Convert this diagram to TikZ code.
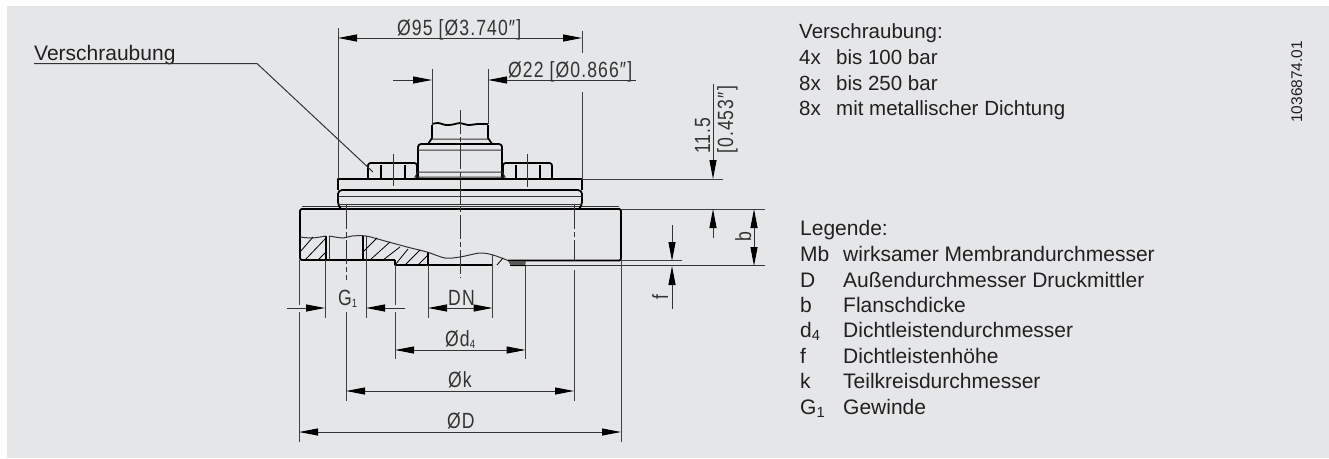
\documentclass[tikz,border=0pt]{standalone}
\usepackage{fontspec}
\setmainfont{Liberation Sans}
\newfontfamily\dimfont[FakeStretch=0.8,LetterSpace=5]{Liberation Sans}
\usetikzlibrary{arrows.meta}
\definecolor{panel}{HTML}{E5E6E8}
\definecolor{ink}{HTML}{231F20}
\begin{document}
\begin{tikzpicture}[x=1pt,y=-1pt,
  dim tip/.tip={Triangle[length=19pt,width=7pt,color=black,fill=black]},
  outline/.style={line width=1.8pt,black,line join=round},
  thin part/.style={line width=1pt,black!80},
  hatch line/.style={line width=.8pt,black},
  ext line/.style={line width=1pt,black!75},
  dim line/.style={line width=1pt,black!80,dim tip-dim tip},
  one tip/.style={line width=1pt,black!80,-dim tip},
  centre line/.style={line width=1pt,black!80,dash pattern=on 24pt off 3pt on 5pt off 3pt},
  dim text/.style={anchor=base west,inner sep=0pt,text=black!80,font=\dimfont\fontsize{22}{24}\selectfont},
  side text/.style={anchor=base west,inner sep=0pt,text=ink,font=\fontsize{20.5}{24}\selectfont},
  legend text/.style={side text,font=\fontsize{21}{24}\selectfont}]

  \fill[white] (0,0) rectangle (1329,458);
  \fill[panel] (7,6) rectangle (1329,458);
  \path[use as bounding box] (0,0) rectangle (1329,458);

  % flange
  \draw[outline,rounded corners=2pt] (300,237) -- (300,209) -- (621,209) -- (621,260.5) -- (508,260.5);
  \draw[outline,rounded corners=2pt] (300,237) -- (300,260) -- (395,260);
  \draw[thin part] (302,206.8) -- (619,206.8);
  \draw[outline,line width=1.4pt] (395,260) -- (395,265) -- (493,265);
  \draw[outline,line width=1.4pt] (326,236) -- (326,260) (363,236) -- (363,260) (428,252) -- (428,265);
  \draw[thin part] (329,236) -- (329,260) (366,236) -- (366,260);
  \draw[thin part,smooth] plot coordinates {(300,237) (312,238) (326,236)};
  \draw[thin part,smooth] plot coordinates {(329,236) (343,238) (352,236) (366,236) (385,241) (407,247) (427,252) (445,258) (460,257) (480,253) (493,255) (508,260.5)};
  \fill[black!65] (508,261) -- (526,261) -- (525,266) -- (511,266) -- cycle;
  \draw[outline,line width=1.4pt] (510,265.5) -- (526,265.5);
  \draw[thin part] (526,265.7) -- (765,265.7);
  \draw[hatch line] (497,265) -- (503,258);
  \foreach \xa/\ya/\xb/\yb in {300/252/313/237,305/260/326/238,318/260/326/252,
    363/252/377/238,370/260/390/242,383/260/400/247,395/265/408/249,405/265/420/250,418/265/428/255}
    \draw[hatch line] (\xa,\ya) -- (\xb,\yb);

  % clamping plate
  \draw[outline,line width=1.3pt] (338,190) -- (338,179) -- (582,179) -- (582,190);
  \draw[outline,rounded corners=4pt] (341,209) -- (338,206) -- (338,190) -- (582,190) -- (582,206) -- (579,209);
  \draw[thin part] (338,196) -- (582,196) (338,204) -- (582,204);

  % nuts
  \foreach \nx in {368,503}{
    \draw[outline,rounded corners=2.5pt] (\nx,178) -- (\nx,163) -- ({\nx+49},163) -- ({\nx+49},178);
    \draw[outline,line width=1.3pt] (\nx+13,165) -- (\nx+13,178) (\nx+37,165) -- (\nx+37,178);
  }
  \draw[thin part] (393,154) -- (393,186) (527,154) -- (527,187);

  % stem
  \draw[outline,rounded corners=3pt] (418,178) -- (418,144) -- (502,144) -- (502,178);
  \draw[outline] (432,125) -- (432,138) -- (428,144) (488,125) -- (488,138) -- (492,144);
  \draw[outline,smooth] plot coordinates {(432,124) (438,123) (446,125) (453,124.5) (460,123) (468,125) (478,124) (488,124)};
  \draw[thin part] (432,139) -- (488,139) (418,150) -- (502,150) (418,172) -- (502,172) (418,172) -- (415,177) -- (505,177) -- (502,172);

  % centre lines
  \draw[centre line] (460,110) -- (460,278);
  \draw[centre line] (346,205) -- (346,280);
  \draw[centre line] (574,205) -- (574,260);

  % extension lines
  \draw[ext line] (338,28) -- (338,179) (582,31) -- (582,53) (582,92) -- (582,179);
  \draw[ext line] (432,69) -- (432,124) (488,69) -- (488,124);
  \draw[ext line] (582,179) -- (723,179) (621,209) -- (765,209) (621,260.7) -- (682,260.7);
  \draw[ext line] (299,260) -- (299,305) (299,312) -- (299,442) (621,260) -- (621,442);
  \draw[ext line] (325,260) -- (325,318) (366,260) -- (366,318);
  \draw[ext line] (395,265) -- (395,305) (395,312) -- (395,359) (525.5,266) -- (525.5,359);
  \draw[ext line] (346,312) -- (346,401) (574,270) -- (574,401);
  \draw[ext line] (428,265) -- (428,318) (492.5,255) -- (492.5,318);

  % dimensions
  \draw[dim line] (338,38) -- (582,38);
  \draw[one tip] (393,80) -- (432,80);
  \draw[one tip] (636,80) -- (488,80);
  \draw[dim line] (428,308) -- (492.5,308);
  \draw[dim line] (395,350) -- (525.5,350);
  \draw[dim line] (346,391) -- (574,391);
  \draw[dim line] (299,432) -- (621,432);
  \draw[one tip] (287,308) -- (325,308);
  \draw[one tip] (405,308) -- (366,308);
  \draw[one tip] (713,84) -- (713,179);
  \draw[one tip] (713,238) -- (713,209);
  \draw[dim line] (754,209) -- (754,266);
  \draw[one tip] (672,225) -- (672,261);
  \draw[one tip] (672,309) -- (672,266);

  % leader
  \node[legend text] (screwlabel) at (34,60) {Verschraubung};
  \coordinate (bend) at (257,63.5);
  \coordinate (nut) at (373,172);
  \draw[thin part] (screwlabel.base west |- bend) -- (bend) -- (nut);

  % dimension texts
  \node[dim text] (dia95) at (397,35) {Ø95 [Ø3.740″]};
  \node[dim text] (dia22) at (508,77) {Ø22 [Ø0.866″]};
  \node[dim text] (g1) at (338,305) {G\raisebox{-2pt}{\fontsize{12}{12}\selectfont 1}};
  \node[dim text] (dn) at (448,305) {DN};
  \node[dim text] (d4) at (445,346) {Ød\raisebox{-2pt}{\fontsize{12}{12}\selectfont 4}};
  \node[dim text] (diak) at (448,387) {Øk};
  \node[dim text] (diad) at (447,428) {ØD};
  \node[dim text,rotate=90] (h115) at (710,154) {11.5};
  \node[dim text,rotate=90] (h453) at (733,154) {[0.453″]};
  \node[dim text,rotate=90,anchor=base] (bb) at (751,237) {b};
  \node[dim text,rotate=90,anchor=base] (ff) at (668,297) {f};

  % texts on the right
  \node[side text] (screwhead) at (799,38) {Verschraubung:};
  \foreach \i/\by/\ka/\kb in {1/64/4x/bis 100 bar,2/90/8x/bis 250 bar,3/115/8x/mit metallischer Dichtung}{
    \node[side text] (count\i) at (799,\by) {\ka};
    \node[side text] (range\i) at (836,\by) {\kb};
  }
  \node[legend text] (legend) at (800,235) {Legende:};
  \foreach \i/\by/\ka/\kb in {1/261/Mb/wirksamer Membrandurchmesser,2/287/D/Außendurchmesser Druckmittler,
    3/312/b/Flanschdicke,4/337/d\textsubscript{4}/Dichtleistendurchmesser,5/363/f/Dichtleistenhöhe,
    6/388/k/Teilkreisdurchmesser,7/414/G\textsubscript{1}/Gewinde}{
    \node[legend text] (sym\i) at (800,\by) {\ka};
    \node[legend text] (desc\i) at (843,\by) {\kb};
  }
  \node[side text,rotate=90,font=\fontsize{15.5}{18}\selectfont] (docno) at (1302,123) {1036874.01};
\end{tikzpicture}
\end{document}
